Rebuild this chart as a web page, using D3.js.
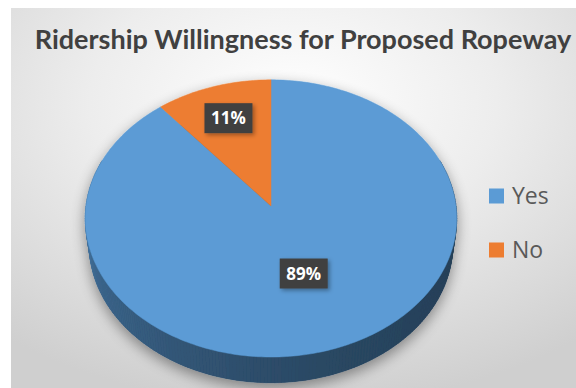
<!DOCTYPE html>
<html>
<head>
<meta charset="utf-8">
<script src="https://cdn.jsdelivr.net/npm/d3@7"></script>
<style>
  html, body { margin: 0; padding: 0; background: #ffffff; }
  svg { display: block; }
</style>
</head>
<body>
<svg id="chart" width="576" height="388"></svg>
<script>
// Survey result: willingness to ride the proposed ropeway
const chartTitle = "Ridership Willingness for Proposed Ropeway";
const categories = ["Yes", "No"];
const values = [89, 11];
const sliceColors = ["#5b9bd5", "#ed7d31"];

const W = 576, H = 388;
const svg = d3.select("#chart");
const defs = svg.append("defs");

// Chart area background: soft radial fade from white to grey
const bg = defs.append("radialGradient").attr("id", "bgGrad")
  .attr("cx", "50%").attr("cy", "25%").attr("r", "80%");
bg.append("stop").attr("offset", "0%").attr("stop-color", "#ffffff");
bg.append("stop").attr("offset", "45%").attr("stop-color", "#ededed");
bg.append("stop").attr("offset", "100%").attr("stop-color", "#cfcfcf");
svg.append("rect").attr("x", 11).attr("y", 8).attr("width", W - 11).attr("height", H - 8)
  .attr("fill", "url(#bgGrad)");

// Soft shadow under the pie
const sh = defs.append("filter").attr("id", "pieShadow")
  .attr("x", "-20%").attr("y", "-20%").attr("width", "140%").attr("height", "140%");
sh.append("feGaussianBlur").attr("in", "SourceAlpha").attr("stdDeviation", 7).attr("result", "b");
sh.append("feOffset").attr("in", "b").attr("dx", 0).attr("dy", 5).attr("result", "o");
sh.append("feComponentTransfer").attr("in", "o").attr("result", "s")
  .append("feFuncA").attr("type", "linear").attr("slope", 0.4);
const shm = sh.append("feMerge");
shm.append("feMergeNode").attr("in", "s");
shm.append("feMergeNode").attr("in", "SourceGraphic");

// Shadow for the data label boxes
const ls = defs.append("filter").attr("id", "labelShadow")
  .attr("x", "-30%").attr("y", "-30%").attr("width", "160%").attr("height", "160%");
ls.append("feDropShadow").attr("dx", 2).attr("dy", 2).attr("stdDeviation", 2)
  .attr("flood-color", "#000").attr("flood-opacity", 0.35);

// Title
svg.append("text")
  .attr("x", 303).attr("y", 49)
  .attr("text-anchor", "middle")
  .attr("font-family", "Lato, 'Open Sans', sans-serif")
  .attr("font-weight", "bold")
  .attr("font-size", 27)
  .attr("fill", "#404040")
  .text(chartTitle);

// Perspective projection of a tilted disk
const cx = 271, cy = 206;     // screen position of the pie centre
const S = 185;                // screen radius at centre depth
const elev = 48 * Math.PI / 180;
const persp = 0.134;          // radius / camera distance
const thick = 0.22;           // pie thickness relative to radius

function project(theta, r, h) {
  const X = r * Math.sin(theta);
  const Yf = r * Math.cos(theta);             // positive = far side
  const yCam = Yf * Math.sin(elev) + h * Math.cos(elev);
  const z = 1 + persp * (Yf * Math.cos(elev) - h * Math.sin(elev));
  return [cx + S * X / z, cy - S * yCam / z];
}

const pie = d3.pie().sort(null).value(d => d.value)
  .startAngle(0).endAngle(2 * Math.PI);
const slices = pie(categories.map((c, i) => ({ name: c, value: values[i], color: sliceColors[i] })));

const pieG = svg.append("g").attr("filter", "url(#pieShadow)");
const line = d3.line();
const STEP = Math.PI / 180;

// Bottom disk
const bottomPts = d3.range(0, 2 * Math.PI + STEP / 2, STEP).map(t => project(t, 1, -thick));
pieG.append("path").attr("d", line(bottomPts) + "Z").attr("fill", "#223f5e");

// Outer wall, shaded darker toward the right
const xMin = cx - S, xMax = cx + S;
slices.forEach(d => {
  const a0 = d.startAngle, a1 = d.endAngle;
  for (let t = a0; t < a1 - 1e-9; t += STEP) {
    const t2 = Math.min(t + STEP, a1);
    const mid = (t + t2) / 2;
    if (Math.cos(mid) > 0.35) continue;        // back wall is hidden
    const p1 = project(t, 1, 0), p2 = project(t2, 1, 0);
    const p3 = project(t2, 1, -thick), p4 = project(t, 1, -thick);
    const u = Math.max(0, Math.min(1, ((p1[0] + p2[0]) / 2 - xMin) / (xMax - xMin)));
    const shade = d3.color(d.data.color).darker(0.95 + 1.5 * Math.pow(u, 0.55)).formatHex();
    pieG.append("path")
      .attr("d", line([p1, p2, p3, p4]) + "Z")
      .attr("fill", shade).attr("stroke", shade).attr("stroke-width", 0.6);
  }
});

// Top surface slices
slices.forEach(d => {
  const pts = [project(0, 0, 0)];
  const n = Math.max(2, Math.ceil((d.endAngle - d.startAngle) / STEP));
  for (let i = 0; i <= n; i++) {
    const t = d.startAngle + (d.endAngle - d.startAngle) * i / n;
    pts.push(project(t, 1, 0));
  }
  pieG.append("path").attr("d", line(pts) + "Z")
    .attr("fill", d.data.color)
    .attr("stroke", d.data.color).attr("stroke-width", 0.5);
});

// Data labels in dark boxes
const total = d3.sum(values);
const labelG = svg.append("g");
slices.forEach(d => {
  const mid = (d.startAngle + d.endAngle) / 2;
  const rr = d.data.value / total > 0.5 ? 0.5 : 0.72;
  const [lx, ly] = project(mid, rr, 0);
  const txt = Math.round(d.data.value / total * 100) + "%";
  const g = labelG.append("g").attr("transform", `translate(${lx},${ly})`);
  const bw = 48, bh = 30;
  g.append("rect").attr("x", -bw / 2).attr("y", -bh / 2).attr("width", bw).attr("height", bh)
    .attr("fill", "#404040").attr("filter", "url(#labelShadow)");
  g.append("text").attr("text-anchor", "middle").attr("dy", "0.36em")
    .attr("font-family", "'Open Sans', sans-serif").attr("font-weight", "bold")
    .attr("font-size", 17).attr("fill", "#ffffff")
    .text(txt);
});

// Legend
const legend = svg.append("g");
categories.forEach((c, i) => {
  const y = 196 + i * 54;
  legend.append("rect").attr("x", 489).attr("y", y - 7.5).attr("width", 15).attr("height", 15)
    .attr("fill", sliceColors[i]);
  legend.append("text").attr("x", 512).attr("y", y).attr("dy", "0.36em")
    .attr("font-family", "'Open Sans', sans-serif").attr("font-size", 23)
    .attr("fill", "#595959").text(c);
});
</script>
</body>
</html>
